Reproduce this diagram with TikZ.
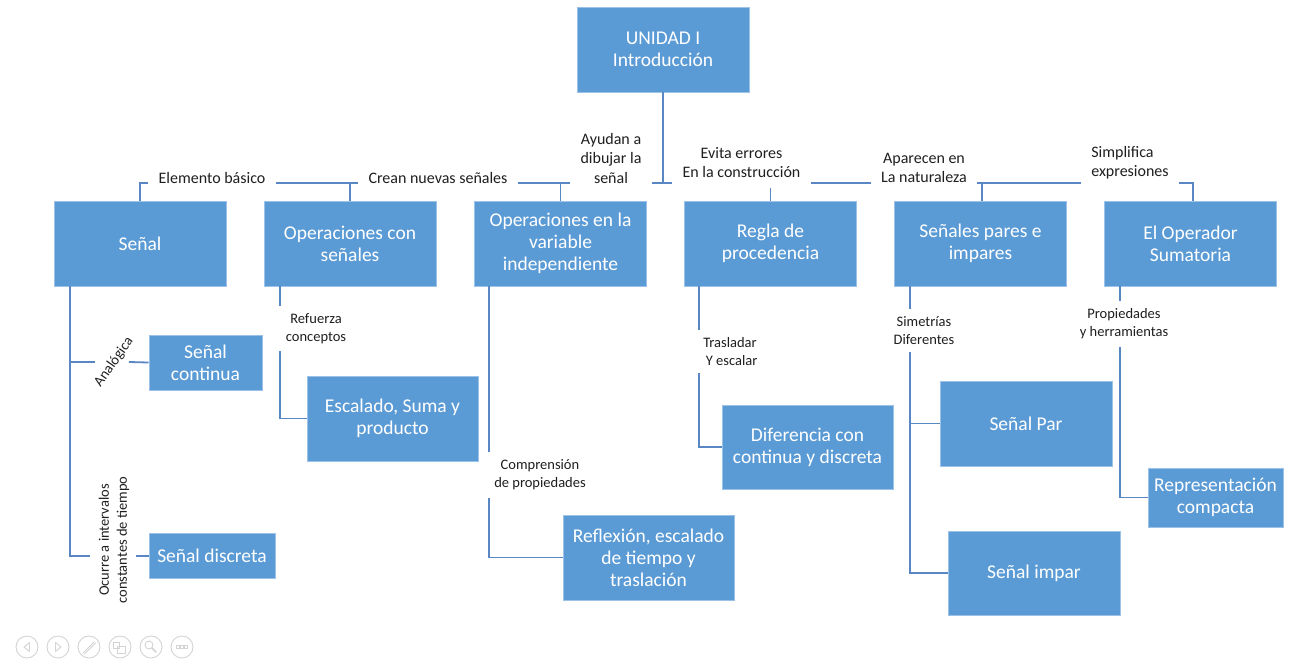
\documentclass[tikz,border=0pt]{standalone}
\usepackage{fontspec}
\setmainfont{Carlito}
\usetikzlibrary{calc}
\definecolor{boxblue}{HTML}{5B9BD5}
\definecolor{boxedge}{HTML}{9CC2E8}
\definecolor{linkblue}{HTML}{5887C4}
\definecolor{labeltext}{HTML}{1F1F1F}
\definecolor{toolgray}{HTML}{D4D4D4}

\begin{document}
\begin{tikzpicture}[x=1pt,y=-1pt,
  concept/.style={draw=boxedge, line width=0.8pt, fill=boxblue, text=white,
    align=center, font=\fontsize{19.5}{22}\selectfont, inner sep=0pt,
    minimum width=172pt, minimum height=85pt},
  link/.style={draw=linkblue, line width=1.8pt},
  toplabel/.style={text=labeltext, align=center, font=\fontsize{16}{19.5}\selectfont,
    inner xsep=10pt, inner ysep=2pt},
  sublabel/.style={text=labeltext, align=center, font=\fontsize{14.5}{18}\selectfont,
    inner xsep=3pt, inner ysep=7.5pt},
  tool/.style={draw=toolgray, line width=0.9pt}
]
\useasboundingbox[fill=white] (0,0) rectangle (1291,662);

% ---------- concept boxes ----------
\node[concept] (root) at (663,49.5) {UNIDAD I\\Introducción};

\node[concept] (senal)    at (140,243.5)   {Señal};
\node[concept] (opsSen)   at (350,243.5)   {Operaciones con\\señales};
\node[concept] (opsVar)   at (560.5,243.5) {Operaciones en la\\variable\\independiente};
\node[concept] (regla)    at (770.5,243.5) {Regla de\\procedencia};
\node[concept] (pares)    at (980.5,243.5) {Señales pares e\\impares};
\node[concept] (operador) at (1190.5,243.5){El Operador\\Sumatoria};

\node[concept, minimum width=113pt, minimum height=55pt] (continua) at (205.5,362.5) {Señal\\continua};
\node[concept, minimum width=126pt, minimum height=45pt] (discreta) at (212,555.5) {Señal discreta};
\node[concept, minimum width=171pt] (escalado)   at (392.5,418.5) {Escalado, Suma y\\producto};
\node[concept, minimum width=171pt] (reflexion)  at (648.5,557.5) {Reflexión, escalado\\de tiempo y\\traslación};
\node[concept, minimum width=171pt, minimum height=84pt] (diferencia) at (807.5,447) {Diferencia con\\continua y discreta};
\node[concept] (par)   at (1026,423.5) {Señal Par};
\node[concept, minimum height=84pt] (impar) at (1034,573) {Señal impar};
\node[concept, minimum width=135pt, minimum height=59pt] (repr) at (1215.5,497.5) {Representación\\compacta};

% ---------- labels on the upper bus ----------
\coordinate (busY) at (0,183);
\node[toplabel] (lblElem)   at (212,178)    {Elemento básico};
\node[toplabel] (lblCrean)  at (438,178)    {Crean nuevas señales};
\node[toplabel] (lblAyudan) at (611,158)    {Ayudan a\\dibujar la\\señal};
\node[toplabel] (lblEvita)  at (741.5,162.5){Evita errores\\En la construcción};
\node[toplabel] (lblApar)   at (924,168)    {Aparecen en\\La naturaleza};
\node[toplabel, align=left] (lblSimpl) at (1130,162.5) {Simplifica\\expresiones};

% ---------- labels on the lower branches ----------
\node[sublabel] (lblRef)  at (316,328.5)  {Refuerza\\conceptos};
\node[sublabel] (lblComp) at (540,475)    {Comprensión\\de propiedades};
\node[sublabel] (lblTras) at (730,351.5)  {Trasladar\\\ Y escalar};
\node[sublabel] (lblSim)  at (924,330.5)  {Simetrías\\Diferentes};
\node[sublabel] (lblProp) at (1124,324)   {Propiedades\\y herramientas};
\node[sublabel, inner sep=1pt, rotate=55] (lblAna) at (114,362) {Analógica};
\node[sublabel, inner sep=1pt, rotate=90] (lblOcu) at (114,540) {Ocurre a intervalos\\constantes de tiempo};

% ---------- upper bus ----------
\draw[link] (root.south) -- (root.south |- busY);
\draw[link] (lblAyudan.east |- busY) -- (lblEvita.west |- busY);
\draw[link] (senal.north) |- (lblElem.west |- busY);
\draw[link] (lblElem.east |- busY) -- (lblCrean.west |- busY);
\draw[link] (opsSen.north) -- (opsSen.north |- busY);
\draw[link] (lblCrean.east |- busY) -- (lblAyudan.west |- busY);
\draw[link] (opsVar.north) -- (opsVar.north |- busY);
\coordinate (reglaStub) at ([yshift=13pt]regla.north);
\draw[link] (regla.north) -- (reglaStub);
\draw[link] (lblEvita.east |- busY) -- (lblApar.west |- busY);
\draw[link] (lblApar.east |- busY) -- (lblSimpl.west |- busY);
\draw[link] ([xshift=1.5pt]pares.north) -- ([xshift=1.5pt]pares.north |- busY);
\draw[link] (lblSimpl.east |- busY) -| ([xshift=2.5pt]operador.north);

% ---------- Señal: continua and discreta ----------
\coordinate (senTop) at ([xshift=16pt]senal.south west);
\coordinate (anaL) at (95,362);
\coordinate (anaR) at (129,362);
\coordinate (ocuL) at (90,556);
\coordinate (ocuR) at (136,556);
\draw[link] (senTop) |- (ocuL);
\draw[link] (senTop |- anaL) -- (anaL);
\draw[link] (anaR) -- (continua.west);
\draw[link] (ocuR) -- (discreta.west |- ocuR);

% ---------- Operaciones con señales ----------
\coordinate (opsSenTop) at ([xshift=16pt]opsSen.south west);
\draw[link] (opsSenTop) -- (opsSenTop |- lblRef.north);
\draw[link] (opsSenTop |- lblRef.south) |- (escalado.west);

% ---------- Operaciones en la variable independiente ----------
\coordinate (opsVarTop) at ([xshift=15pt]opsVar.south west);
\draw[link] (opsVarTop) -- (opsVarTop |- lblComp.north);
\draw[link] (opsVarTop |- lblComp.south) |- (reflexion.west);

% ---------- Regla de procedencia ----------
\coordinate (reglaTop) at ([xshift=15pt]regla.south west);
\draw[link] (reglaTop) -- (reglaTop |- lblTras.north);
\draw[link] (reglaTop |- lblTras.south) |- (diferencia.west);

% ---------- Señales pares e impares ----------
\coordinate (paresTop) at ([xshift=16pt]pares.south west);
\draw[link] (paresTop) -- (paresTop |- lblSim.north);
\draw[link] (paresTop |- lblSim.south) |- (impar.west);
\draw[link] (paresTop |- par.west) -- (par.west);

% ---------- El Operador Sumatoria ----------
\coordinate (operTop) at ([xshift=16pt]operador.south west);
\draw[link] (operTop) -- (operTop |- lblProp.north);
\draw[link] (operTop |- lblProp.south) |- (repr.west);

% ---------- slide toolbar ----------
\foreach \i in {0,...,5}{
  \draw[tool] (27+31*\i,647) circle (11);
}
\draw[tool, line join=round] (29.5,642.5) -- (24,647) -- (29.5,651.5) -- cycle;
\draw[tool, line join=round] (55.5,642.5) -- (61,647) -- (55.5,651.5) -- cycle;
\draw[tool, line cap=round] (83,653) -- (94,642);
\draw[tool, line cap=round] (84.5,654) -- (95.5,643);
\draw[tool] (113,642) rectangle (119,648);
\draw[tool] (117,646) rectangle (125,653);
\draw[tool] (149,645) circle (4);
\draw[tool, line width=1.6pt, line cap=round] (152,648) -- (156,652);
\foreach \dx in {-4,0,4}{
  \draw[tool, line width=0.7pt] (182+\dx-1.3,645.7) rectangle (182+\dx+1.3,648.3);
}
\end{tikzpicture}
\end{document}
